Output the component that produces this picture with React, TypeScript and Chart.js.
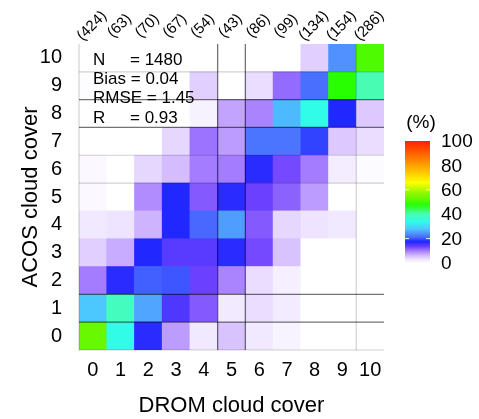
import React, { useEffect, useRef } from 'react';
import { Chart, registerables } from 'chart.js';

Chart.register(...registerables);

// DROM cloud cover categories (x) and ACOS cloud cover ticks (y)
const dromLabels = ['0', '1', '2', '3', '4', '5', '6', '7', '8', '9', '10'];
const acosTicks = [0, 1, 2, 3, 4, 5, 6, 7, 8, 9, 10];
// number of samples per DROM column
const columnCounts = [424, 63, 70, 67, 54, 43, 86, 99, 134, 154, 286];

// percentage (%) per ACOS row, columns are DROM 0..10
const row0 = [53, 34, 17, 8, 2.5, 5.5, 2.5, 1.2, 0, 0, 0];
const row1 = [28, 39, 25.5, 15, 12, 2.3, 3.5, 2.2, 0, 0, 0];
const row2 = [10, 17, 20.5, 20, 13.5, 9.5, 3.5, 1.8, 0, 0, 0];
const row3 = [4.5, 7, 17.5, 14.5, 14.5, 17, 13, 5.5, 0, 0, 0];
const row4 = [2.5, 3, 6.5, 17.5, 21, 25, 12, 4, 3, 2.5, 0];
const row5 = [0.7, 0, 9, 17.5, 12, 17, 13.5, 11.5, 8, 0, 0];
const row6 = [0.7, 0, 4, 6, 10, 10, 17, 13, 10, 2, 0.5];
const row7 = [0, 0, 0, 4, 10.5, 8, 22, 22, 19, 5, 3.5];
const row8 = [0, 0, 0, 0, 1.5, 7.5, 9.5, 27, 34, 17.5, 5];
const row9 = [0.3, 0, 0, 0, 4.5, 0, 3.5, 11, 21.5, 48, 40];
const row10 = [0, 0, 0, 0, 0, 0, 0, 0, 4.5, 24, 51];
const rowValues = [row0, row1, row2, row3, row4, row5, row6, row7, row8, row9, row10];

// statistics box
const statNames = ['N', 'Bias', 'RMSE', 'R'];
const statValues = ['1480', '0.04', '1.45', '0.93'];

// colour bar
const colorbarTicks = [0, 20, 40, 60, 80, 100];
const colorbarMarks = [20, 60];
const cmapStops: [number, string][] = [
  [0, '#ffffff'],
  [3, '#eee4ff'],
  [6, '#d4bcff'],
  [10, '#a47cff'],
  [13.5, '#6c40ff'],
  [17.5, '#2028ff'],
  [21, '#4868ff'],
  [24, '#5090ff'],
  [28, '#4cc8ff'],
  [34, '#30fce8'],
  [40, '#48fcb4'],
  [48, '#28ff00'],
  [53, '#68f800'],
  [57, '#8cf700'],
  [66, '#ffff00'],
  [80, '#ffa000'],
  [100, '#ff2000'],
];

// grid line boundaries
const darkXLines = [4.5, 5.5];
const lightXLines = [-0.5, 9.5];
const darkYLines = [0.5, 1.5, 7.5, 8.5];
const lightYLines = [-0.5, 5.5, 6.5, 9.5];

const FONT = "'Liberation Sans', Arial, sans-serif";

function hexToRgb(h: string) {
  const n = parseInt(h.slice(1), 16);
  return [(n >> 16) & 255, (n >> 8) & 255, n & 255];
}

function colorFor(v: number): string {
  if (v <= 0) return '#ffffff';
  for (let i = 1; i < cmapStops.length; i++) {
    const [v1, c1] = cmapStops[i];
    if (v <= v1) {
      const [v0, c0] = cmapStops[i - 1];
      const t = (v - v0) / (v1 - v0);
      const a = hexToRgb(c0);
      const b = hexToRgb(c1);
      const c = a.map((x, k) => Math.round(x + (b[k] - x) * t));
      return `rgb(${c[0]},${c[1]},${c[2]})`;
    }
  }
  return cmapStops[cmapStops.length - 1][1];
}

const overlayPlugin = {
  id: 'overlay',
  afterDatasetsDraw(chart: any) {
    const { ctx, chartArea, scales } = chart;
    const xs = scales.x;
    const ys = scales.y;
    const { left, right, top, bottom } = chartArea;
    ctx.save();
    const vline = (v: number, color: string, w: number) => {
      const px = xs.getPixelForValue(v);
      ctx.strokeStyle = color;
      ctx.lineWidth = w;
      ctx.beginPath();
      ctx.moveTo(px, top);
      ctx.lineTo(px, bottom);
      ctx.stroke();
    };
    const hline = (v: number, color: string, w: number) => {
      const py = ys.getPixelForValue(v);
      ctx.strokeStyle = color;
      ctx.lineWidth = w;
      ctx.beginPath();
      ctx.moveTo(left, py);
      ctx.lineTo(right, py);
      ctx.stroke();
    };
    lightXLines.forEach((v) => vline(v, 'rgba(0,0,0,0.18)', 1.2));
    lightYLines.forEach((v) => hline(v, 'rgba(0,0,0,0.18)', 1.2));
    darkXLines.forEach((v) => vline(v, 'rgba(0,0,0,0.55)', 1.3));
    darkYLines.forEach((v) => hline(v, 'rgba(0,0,0,0.55)', 1.3));

    // column counts on top, rotated
    ctx.fillStyle = '#000';
    ctx.font = `15px ${FONT}`;
    ctx.textAlign = 'center';
    ctx.textBaseline = 'middle';
    columnCounts.forEach((n, i) => {
      const px = xs.getPixelForValue(i);
      ctx.save();
      ctx.translate(px - 1, top - 18);
      ctx.rotate(-Math.PI / 4);
      ctx.fillText(`(${n})`, 0, 0);
      ctx.restore();
    });

    // statistics text
    ctx.font = `17px ${FONT}`;
    ctx.textAlign = 'left';
    const sx = left + 14;
    statNames.forEach((name, i) => {
      const sy = top + 16 + i * 19.3;
      if (name.length <= 1) {
        ctx.fillText(name, sx, sy);
        ctx.fillText(`= ${statValues[i]}`, sx + 37, sy);
      } else {
        ctx.fillText(`${name} = ${statValues[i]}`, sx, sy);
      }
    });

    // colour bar
    const cbL = right + 21;
    const cbW = 25;
    const cbTop = top + 97;
    const cbBot = top + 219;
    const grad = ctx.createLinearGradient(0, cbBot, 0, cbTop);
    cmapStops.forEach(([v, c]) => grad.addColorStop(v / 100, c));
    ctx.fillStyle = grad;
    ctx.fillRect(cbL, cbTop, cbW, cbBot - cbTop);
    ctx.strokeStyle = 'rgba(255,255,255,0.9)';
    ctx.lineWidth = 1;
    colorbarMarks.forEach((v) => {
      const py = cbBot - (v / 100) * (cbBot - cbTop);
      ctx.beginPath();
      ctx.moveTo(cbL, py);
      ctx.lineTo(cbL + 4, py);
      ctx.moveTo(cbL + cbW - 4, py);
      ctx.lineTo(cbL + cbW, py);
      ctx.stroke();
    });
    ctx.fillStyle = '#000';
    ctx.font = `19px ${FONT}`;
    ctx.textAlign = 'left';
    ctx.textBaseline = 'middle';
    colorbarTicks.forEach((v) => {
      const py = cbBot - (v / 100) * (cbBot - cbTop);
      ctx.fillText(String(v), cbL + 36, py + 1);
    });
    ctx.textAlign = 'center';
    ctx.fillText('(%)', cbL + 16, cbTop - 18);
    ctx.restore();
  },
};

export default function App() {
  const canvasRef = useRef<HTMLCanvasElement | null>(null);

  useEffect(() => {
    const canvas = canvasRef.current;
    if (!canvas) return;
    Chart.defaults.font.family = FONT;
    const datasets = rowValues.map((vals, r) => ({
      label: `ACOS ${acosTicks[r]}`,
      data: vals.map(() => [acosTicks[r] - 0.5, acosTicks[r] + 0.5]),
      backgroundColor: vals.map((v) => colorFor(v)),
      borderWidth: 0,
      barPercentage: 1,
      categoryPercentage: 1,
      grouped: false,
    }));
    const chart = new Chart(canvas, {
      type: 'bar',
      data: { labels: dromLabels, datasets: datasets as any },
      options: {
        responsive: false,
        animation: false,
        devicePixelRatio: 1,
        layout: { padding: { left: 0, top: 44, right: 95, bottom: 0 } },
        plugins: { legend: { display: false }, tooltip: { enabled: false } },
        scales: {
          x: {
            type: 'category',
            offset: true,
            grid: { display: false, drawTicks: false },
            border: { display: false },
            ticks: { color: '#000', font: { size: 20, family: FONT }, padding: 8, maxRotation: 0, autoSkip: false },
            title: {
              display: true,
              text: 'DROM cloud cover',
              color: '#000',
              font: { size: 22, family: FONT },
              padding: { top: 0, bottom: 0 },
            },
            afterFit: (s: any) => {
              s.height = 69;
            },
          },
          y: {
            type: 'linear',
            min: -0.5,
            max: 10.5,
            afterBuildTicks: (s: any) => {
              s.ticks = acosTicks.map((v) => ({ value: v }));
            },
            grid: { display: false, drawTicks: false },
            border: { display: false },
            ticks: { color: '#000', font: { size: 20, family: FONT }, padding: 17, autoSkip: false },
            title: {
              display: true,
              text: 'ACOS cloud cover',
              color: '#000',
              font: { size: 22, family: FONT },
              padding: { top: 18, bottom: 0 },
            },
            afterFit: (s: any) => {
              s.width = 79;
            },
          },
        },
      },
      plugins: [overlayPlugin],
    });
    return () => chart.destroy();
  }, []);

  return (
    <div style={{ position: 'fixed', left: 0, top: 0, width: 479, height: 419, background: '#fff' }}>
      <canvas ref={canvasRef} width={479} height={419} style={{ display: 'block', width: 479, height: 419 }} />
    </div>
  );
}
